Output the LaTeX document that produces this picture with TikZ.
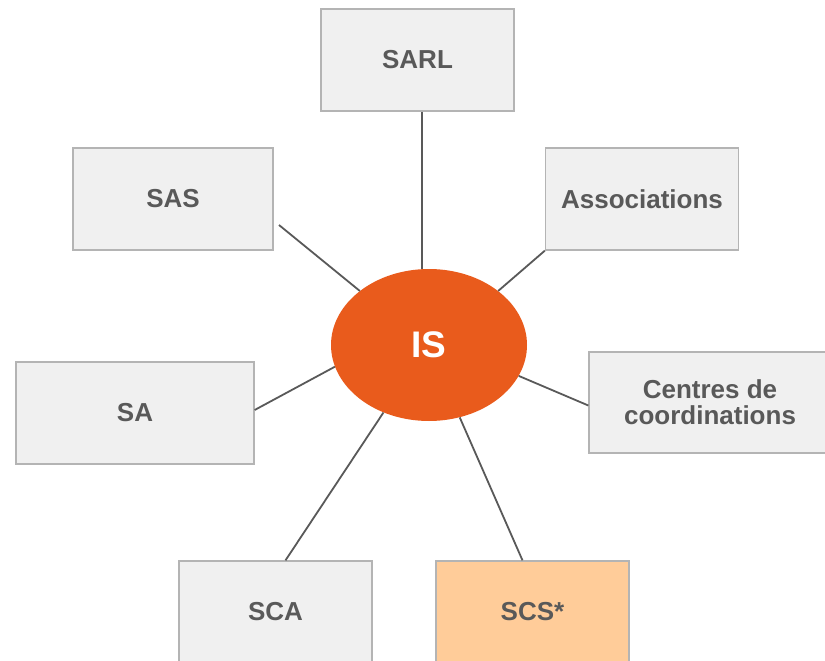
\documentclass[tikz,border=0pt]{standalone}
\usepackage{fontspec}
\usetikzlibrary{shapes.geometric}
\setmainfont{Liberation Sans}
\definecolor{boxfill}{HTML}{F0F0F0}
\definecolor{boxline}{HTML}{B4B4B4}
\definecolor{labelgray}{HTML}{595959}
\definecolor{isorange}{HTML}{E95B1C}
\definecolor{scsfill}{HTML}{FFCC99}
\begin{document}
\begin{tikzpicture}[x=1pt, y=-1pt,
        form/.style={draw=boxline, line width=1.3pt, fill=boxfill, text=labelgray,
            font=\fontsize{26}{26}\selectfont\bfseries, align=center,
            minimum width=193pt, minimum height=102pt, inner sep=0pt},
        link/.style={draw=labelgray, line width=1.8pt}]
    \useasboundingbox (0,0) rectangle (825,661);

    \node[form] (sarl) at (417.5,60) {SARL};
    \node[form, minimum width=200pt] (sas) at (173,199) {SAS};
    \node[form] (assoc) at (642,199) {Associations};
    \node[form, minimum width=238pt] (sa) at (135,413) {SA};
    \node[form, minimum width=242pt, minimum height=101pt] (centres) at (710,402.5)
        {Centres de\\coordinations};
    \node[form] (sca) at (275.5,612) {SCA};
    \node[form, fill=scsfill] (scs) at (532.5,612) {SCS*};

    \node[ellipse, fill=isorange, text=white, minimum width=196pt, minimum height=152pt,
        inner sep=0pt, font=\fontsize{37}{37}\selectfont\bfseries] (is) at (429,345) {IS};

    \coordinate (sasend) at (279,225);

    \draw[link] (is.95 |- sarl.south) -- (is.95);
    \draw[link] (sasend) -- (is.142);
    \draw[link] (assoc.south west) -- (is.38);
    \draw[link] ([yshift=3pt]sa.east) -- (is.193);
    \draw[link] ([yshift=-3pt]centres.west) -- (is.-19);
    \draw[link] ([xshift=10pt]sca.north) -- (is.236);
    \draw[link] ([xshift=-10pt]scs.north) -- (is.-67);

\end{tikzpicture}
\end{document}
